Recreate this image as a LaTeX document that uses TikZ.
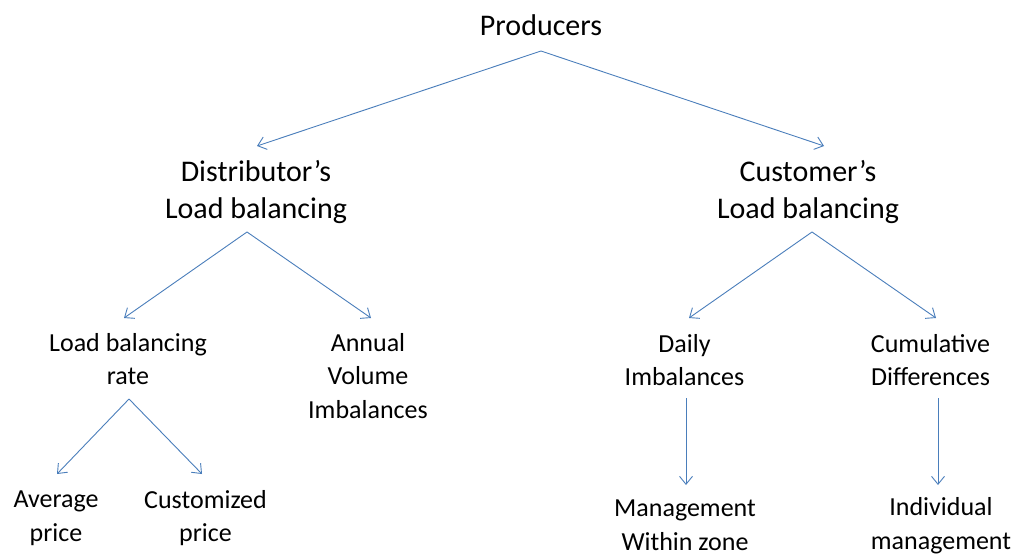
\documentclass[tikz,border=0pt]{standalone}
\usepackage{fontspec}
\setmainfont{Carlito}
\usetikzlibrary{arrows.meta,calc}
\definecolor{linkblue}{RGB}{74,126,187}
\begin{document}
\begin{tikzpicture}[x=1pt,y=-1pt,
  big/.style={inner sep=0pt,align=center,font=\fontsize{30}{37}\selectfont},
  small/.style={inner sep=0pt,align=center,font=\fontsize{26}{33.5}\selectfont},
  arr/.style={draw=linkblue,line width=0.9pt,-{Straight Barb[length=8pt,width=13pt,line width=0.9pt]}}]
\useasboundingbox[fill=white] (0,0) rectangle (1017,556);

% top level
\node[big] (prod) at (541,25) {Producers};

% second level
\node[big] (dist) at (256,192.5) {Distributor’s\\Load balancing};
\node[big] (cust) at (808,192.5) {Customer’s\\Load balancing};

% third level
\node[small] (rate)  at (128,359) {Load balancing\\rate};
\node[small] (annual) at (368,376) {Annual\\Volume\\Imbalances};
\node[small] (daily) at (684.5,360) {Daily\\Imbalances};
\node[small] (cumul) at (930.5,360) {Cumulative\\Differences};

% fourth level
\node[small] (avg)   at (56,518) {Average\\price};
\node[small] (custp) at (205.5,518) {Customized\\price};
\node[small] (zone)  at (685,525) {Management\\Within zone};
\node[small] (indiv) at (941,525.5) {Individual\\management};

% connectors
\draw[arr] ($(prod)+(0,26)$) -- ($(dist)+(1,-46.5)$);
\draw[arr] ($(prod)+(0,26)$) -- ($(cust)+(16,-46.5)$);

\draw[arr] ($(dist)+(-9,39.5)$) -- ($(rate)+(-4,-41)$);
\draw[arr] ($(dist)+(-9,39.5)$) -- ($(annual)+(3,-58)$);

\draw[arr] ($(cust)+(4,39.5)$) -- ($(daily)+(4.5,-42)$);
\draw[arr] ($(cust)+(4,39.5)$) -- ($(cumul)+(5.5,-42)$);

\draw[arr] ($(rate)+(1,40)$) -- ($(avg)+(1,-44)$);
\draw[arr] ($(rate)+(1,40)$) -- ($(custp)+(-3.5,-44)$);

\draw[arr] ($(daily)+(1.5,38)$) -- ($(zone)+(1,-40)$);
\draw[arr] ($(cumul)+(7.5,38)$) -- ($(indiv)+(-3,-40.5)$);
\end{tikzpicture}
\end{document}
